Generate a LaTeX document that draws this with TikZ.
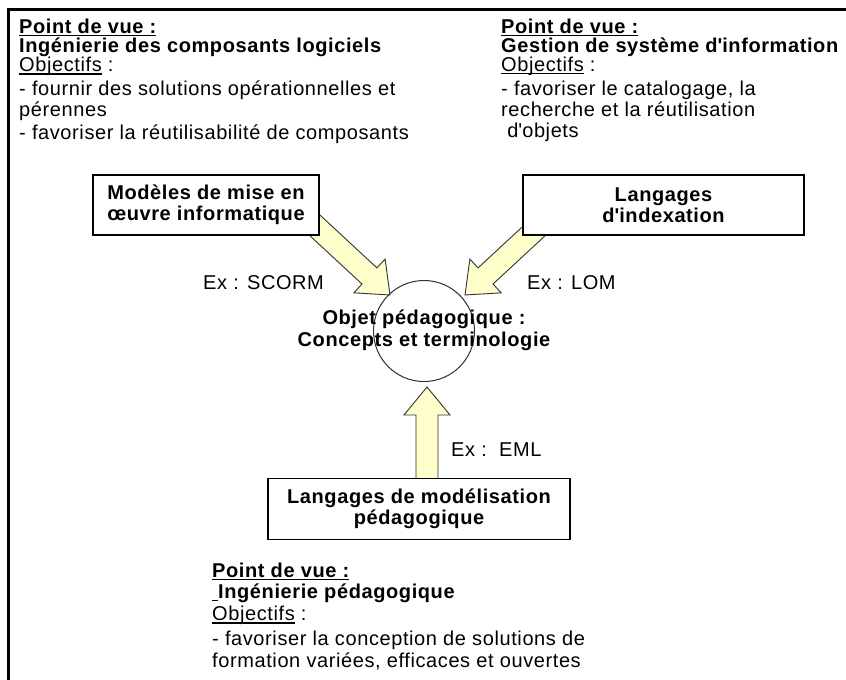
\documentclass[tikz,border=0pt]{standalone}
\usepackage{fontspec}
\setmainfont{Liberation Sans}[LetterSpace=3]
\usetikzlibrary{calc}
\definecolor{paleyellow}{RGB}{255,255,204}
\definecolor{edgegray}{RGB}{50,50,50}
% underline drawn as a rule under the text
\newcommand\ulbox[1]{\setbox0\hbox{#1}\rlap{\rule[-2.6pt]{\wd0}{1.3pt}}\box0}
% broad arrow from #1 (tail) to #2 (tip)
\newcommand\broadarrow[2]{%
  \coordinate (hb) at ($(#2)!28pt!(#1)$);
  \filldraw[fatarrow] ($(#1)!11pt!90:(#2)$) -- ($(hb)!11pt!90:(#2)$)
    -- ($(hb)!23pt!90:(#2)$) -- (#2) -- ($(hb)!23pt!-90:(#2)$)
    -- ($(hb)!11pt!-90:(#2)$) -- ($(#1)!11pt!-90:(#2)$) -- cycle;}
\begin{document}
\begin{tikzpicture}[x=1pt,y=-1pt,
  txt/.style={font=\fontsize{20}{18.5}\selectfont, inner sep=0pt, align=left, anchor=north west},
  box/.style={draw=black, line width=1.3pt, fill=white, inner sep=0pt,
    font=\fontsize{20}{21}\selectfont\bfseries, align=center},
  lbl/.style={font=\fontsize{20}{20}\selectfont, inner sep=0pt, anchor=west},
  fatarrow/.style={fill=paleyellow, draw=edgegray, line width=0.9pt, line join=miter},
  title/.style={font=\fontsize{20}{22}\selectfont\bfseries, align=center, inner sep=0pt}]
\useasboundingbox (0,0) rectangle (846,680);
\fill[white] (0,0) rectangle (846,680);

% frame
\draw[line width=2.5pt] (846,9.5) -- (8.5,9.5) -- (8.5,680);

% viewpoint texts
\node[txt] (vlog) at (19,19) {\textbf{\ulbox{Point de vue :}}\\
  \textbf{Ingénierie des composants logiciels}\\
  \ulbox{Objectifs}\ :\\[4pt]
  - fournir des solutions opérationnelles et\\[1pt]
  pérennes\\[3pt]
  - favoriser la réutilisabilité de composants};
\node[txt] (vsi) at (501,19) {\textbf{\ulbox{Point de vue :}}\\
  \textbf{Gestion de système d\textquotesingle information}\\
  \ulbox{Objectifs}\ :\\[4pt]
  - favoriser le catalogage, la\\[1pt]
  recherche et la réutilisation\\[3pt]
  \ d\textquotesingle objets};
\node[txt] (vped) at (212,563) {\textbf{\ulbox{Point de vue :}}\\[2.5pt]
  \textbf{\ulbox{\kern6pt}Ingénierie pédagogique}\\[2.5pt]
  \ulbox{Objectifs}\ :\\[4.5pt]
  - favoriser la conception de solutions de\\[3pt]
  formation variées, efficaces et ouvertes};

% arrows towards the central object
\coordinate (tailA) at (280,193);
\coordinate (tipA) at (390,295);
\coordinate (tailB) at (575,193);
\coordinate (tipB) at (465,295);
\coordinate (tailC) at (427,500);
\coordinate (tipC) at (427,387);
\broadarrow{tailA}{tipA}
\broadarrow{tailB}{tipB}
\broadarrow{tailC}{tipC}

% boxes
\node[box, minimum width=226pt, minimum height=60pt] (mod) at (206,205)
  {Modèles de mise en\\œuvre informatique};
\node[box, minimum width=281pt, minimum height=60pt] (idx) at (663.5,205)
  {Langages\\d\textquotesingle indexation};
\node[box, minimum width=302pt, minimum height=61pt] (eml) at (419,509)
  {Langages de modélisation\\pédagogique};

% central object
\node[circle, draw=edgegray, line width=1pt, minimum size=101pt, inner sep=0pt] (obj) at (424,331) {};
\node[title] (objtxt) at (424,330) {Objet pédagogique :\\Concepts et terminologie};

% examples
\node[lbl] (exs) at (203,283) {Ex : SCORM};
\node[lbl] (exl) at (527,283) {Ex : LOM};
\node[lbl] (exe) at (451,450) {Ex :\ \ EML};
\end{tikzpicture}
\end{document}
